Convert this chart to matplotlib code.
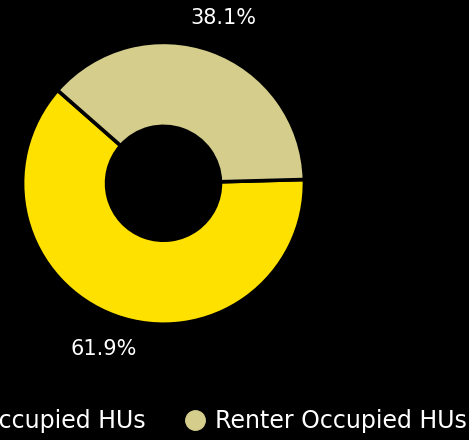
import matplotlib.pyplot as plt
from matplotlib.lines import Line2D

# housing units by tenure (percent)
categories = ['Owner Occupied HUs', 'Renter Occupied HUs']
shares = [61.9, 38.1]
colors = ['#FFE100', '#D4CD8B']

FONT = ['DejaVu Sans']
plt.rcParams['font.family'] = FONT

W, H = 469, 440
fig = plt.figure(figsize=(W / 100, H / 100), dpi=100, facecolor='black')

# donut centre (163.5, 183.3) px, outer radius 140 px
cx, cy, R = 163.5, 183.3, 140
ax = fig.add_axes([(cx - R) / W, (H - cy - R) / H, 2 * R / W, 2 * R / H])
ax.set_facecolor('black')

lw = 2.6
wedges, texts, pcts = ax.pie(
    shares, colors=colors, startangle=138.7, counterclock=True,
    radius=1.0 + lw / 1.39 / 2 / R,
    wedgeprops=dict(width=0.6, edgecolor='black', linewidth=lw),
    autopct='%.1f%%', pctdistance=1.25,
    textprops=dict(color='white', fontsize=15, fontweight='normal'))
for t in pcts:
    t.set_clip_on(False)
ax.set_xlim(-1, 1)
ax.set_ylim(-1, 1)
ax.axis('off')

handles = [Line2D([], [], ls='none', marker='o', markersize=14,
                  markerfacecolor=c, markeredgecolor=c) for c in colors]
leg = fig.legend(handles, categories, ncol=2, loc='center right',
                 bbox_to_anchor=(467 / W, 1 - 421 / H), frameon=False,
                 borderpad=0, borderaxespad=0, handlelength=1.0,
                 handletextpad=0.36, columnspacing=1.6,
                 prop=dict(family=FONT, size=17, weight='normal'))
for t in leg.get_texts():
    t.set_color('white')

fig.savefig('out.png', dpi=100, facecolor='black')
